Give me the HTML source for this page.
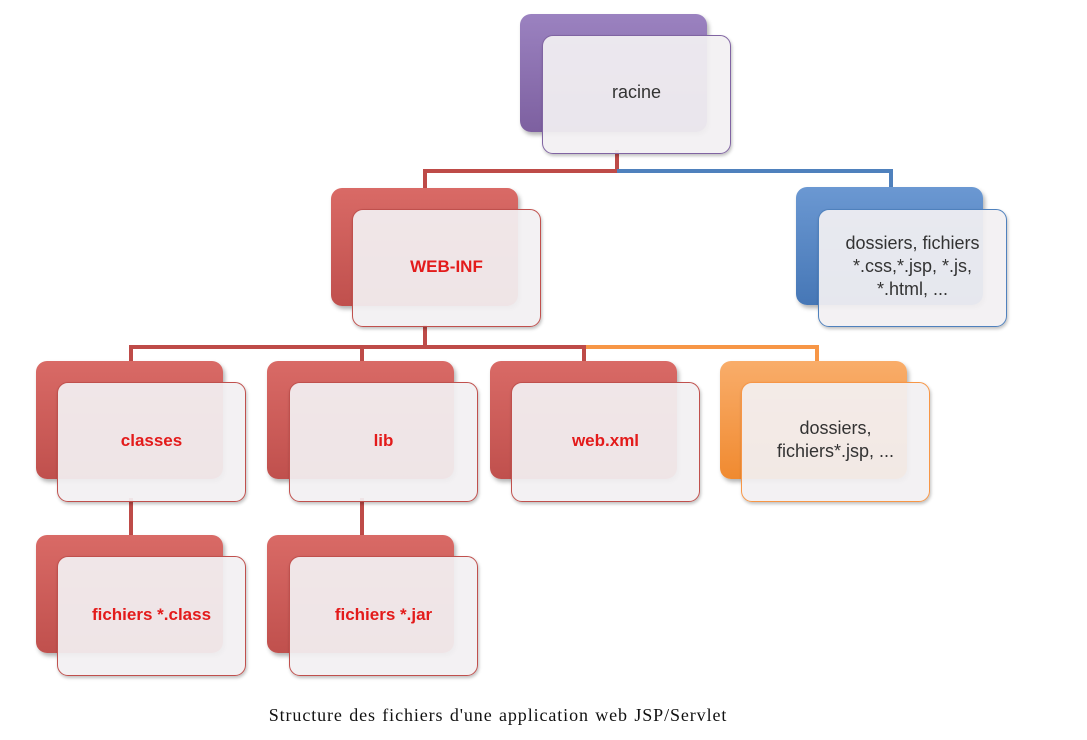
<!DOCTYPE html>
<html><head><meta charset="utf-8"><style>
body{margin:0;width:1087px;height:740px;background:#fff;position:relative;overflow:hidden;font-family:"Liberation Sans",sans-serif}
.b{position:absolute;width:187px;height:118px;border-radius:11px;box-shadow:2px 3px 4px rgba(0,0,0,.3)}
.f{position:absolute;width:189px;height:118px;border-radius:11px;background:rgba(242,240,242,.93);border:1.5px solid;box-sizing:border-box;display:flex;align-items:center;justify-content:center;text-align:center;box-shadow:1px 2px 3px rgba(0,0,0,.25);font-size:18px;line-height:23px;color:#333}
.f span{position:relative;top:-2px}
.r{color:#e31b1b;font-weight:bold;font-size:17px}
.l{position:absolute}
.red{background:linear-gradient(#d96a66,#c0504d)}.redb{border-color:#c0504d}
</style></head><body>
<div class="l" style="left:615px;top:150px;width:4px;height:22px;background:#be4b48"></div>
<div class="l" style="left:423px;top:169px;width:196px;height:4px;background:#be4b48"></div>
<div class="l" style="left:423px;top:169px;width:4px;height:20px;background:#be4b48"></div>
<div class="l" style="left:617px;top:169px;width:276px;height:4px;background:#4f81bd"></div>
<div class="l" style="left:889px;top:169px;width:4px;height:20px;background:#4f81bd"></div>
<div class="l" style="left:423px;top:325px;width:4px;height:24px;background:#be4b48"></div>
<div class="l" style="left:129px;top:345px;width:457px;height:4px;background:#be4b48"></div>
<div class="l" style="left:584px;top:345px;width:235px;height:4px;background:#f79646"></div>
<div class="l" style="left:129px;top:345px;width:4px;height:18px;background:#be4b48"></div>
<div class="l" style="left:360px;top:345px;width:4px;height:18px;background:#be4b48"></div>
<div class="l" style="left:582px;top:345px;width:4px;height:18px;background:#be4b48"></div>
<div class="l" style="left:815px;top:345px;width:4px;height:18px;background:#f79646"></div>
<div class="l" style="left:129px;top:498px;width:4px;height:39px;background:#be4b48"></div>
<div class="l" style="left:360px;top:498px;width:4px;height:39px;background:#be4b48"></div>

<div class="b" style="left:520px;top:14px;background:linear-gradient(#9b82c0,#7d60a0)"></div>
<div class="f" style="left:542px;top:35px;height:119px;border-color:#8064a2"><span>racine</span></div>

<div class="b red" style="left:331px;top:188px"></div>
<div class="f redb" style="left:352px;top:209px"><span class="r">WEB-INF</span></div>

<div class="b" style="left:796px;top:187px;background:linear-gradient(#6b98d2,#4677b6)"></div>
<div class="f" style="left:818px;top:209px;border-color:#4f81bd"><span>dossiers, fichiers<br>*.css,*.jsp, *.js,<br>*.html, ...</span></div>

<div class="b red" style="left:36px;top:361px"></div>
<div class="f redb" style="left:57px;top:382px;height:120px"><span class="r">classes</span></div>
<div class="b red" style="left:267px;top:361px"></div>
<div class="f redb" style="left:289px;top:382px;height:120px"><span class="r">lib</span></div>
<div class="b red" style="left:490px;top:361px"></div>
<div class="f redb" style="left:511px;top:382px;height:120px"><span class="r">web.xml</span></div>
<div class="b" style="left:720px;top:361px;background:linear-gradient(#f9ad6a,#f08a30)"></div>
<div class="f" style="left:741px;top:382px;height:120px;border-color:#f79646"><span>dossiers,<br>fichiers*.jsp, ...</span></div>

<div class="b red" style="left:36px;top:535px"></div>
<div class="f redb" style="left:57px;top:556px;height:120px"><span class="r">fichiers *.class</span></div>
<div class="b red" style="left:267px;top:535px"></div>
<div class="f redb" style="left:289px;top:556px;height:120px"><span class="r">fichiers *.jar</span></div>

<div class="l" style="left:0;width:996px;top:705px;text-align:center;font-family:'Liberation Serif',serif;font-size:18px;letter-spacing:0.9px;word-spacing:1px;color:#111">Structure des fichiers d'une application web JSP/Servlet</div>
</body></html>
